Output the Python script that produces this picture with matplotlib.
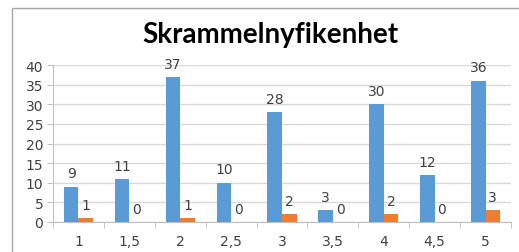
import matplotlib
matplotlib.use("Agg")
import matplotlib.pyplot as plt
from matplotlib.patches import Rectangle
import numpy as np

categories = ["1", "1,5", "2", "2,5", "3", "3,5", "4", "4,5", "5"]
series_blue = [9, 11, 37, 10, 28, 3, 30, 12, 36]
series_orange = [1, 0, 1, 0, 2, 0, 2, 0, 3]
yticks = [0, 5, 10, 15, 20, 25, 30, 35, 40]
title = "Skrammelnyfikenhet"

W, H = 519, 253
fig = plt.figure(figsize=(W / 100, H / 100), dpi=100)
fig.patch.set_facecolor("white")

# chart border (top and left visible)
fig.add_artist(Rectangle((11.5 / W, -0.1), 1.2, (H - 8.5) / H + 0.1,
                         transform=fig.transFigure, fill=False,
                         edgecolor="#a6a6a6", linewidth=1.0, clip_on=False))

ax = fig.add_axes([53 / W, 1 - 223 / H, (511 - 53) / W, (223 - 66) / H])
x = np.arange(len(categories))
bw = 0.285
ax.bar(x - bw / 2, series_blue, bw, color="#5b9bd5", zorder=3)
ax.bar(x + bw / 2, series_orange, bw, color="#ed7d31", zorder=3)

ax.set_xlim(-0.5, len(categories) - 0.5)
ax.set_ylim(0, 40)
ax.set_yticks(yticks)
ax.set_yticklabels([str(v) for v in yticks])
ax.yaxis.grid(True, color="#d9d9d9", linewidth=1.0, zorder=0)
ax.set_axisbelow(True)
for s in ["top", "right"]:
    ax.spines[s].set_visible(False)
ax.spines["left"].set_color("#bfbfbf")
ax.spines["bottom"].set_color("#bfbfbf")

fs = 10
ax.set_xticks(x)
ax.set_xticklabels(categories)
ax.tick_params(axis="x", length=0, pad=9, labelsize=fs, colors="#404040")
ax.set_xticks(np.arange(-0.5, len(categories), 1.0), minor=True)
ax.tick_params(axis="x", which="minor", length=4, color="#bfbfbf")
ax.tick_params(axis="y", length=4, color="#bfbfbf", labelsize=fs,
               colors="#404040", pad=3)

for xi, v in zip(x, series_blue):
    ax.annotate(str(v), (xi - bw / 2, v), xytext=(0, 4.5), textcoords="offset points",
                ha="center", va="bottom", fontsize=fs, color="#404040", zorder=4)
for xi, v in zip(x, series_orange):
    ax.annotate(str(v), (xi + bw / 2, v), xytext=(0, 4.5), textcoords="offset points",
                ha="center", va="bottom", fontsize=fs, color="#404040", zorder=4)

fig.text(270 / W, 1 - 35 / H, title, ha="center", va="center",
         fontsize=20, fontweight="bold", family="Lato", color="black")

fig.savefig("out.png", dpi=100)
